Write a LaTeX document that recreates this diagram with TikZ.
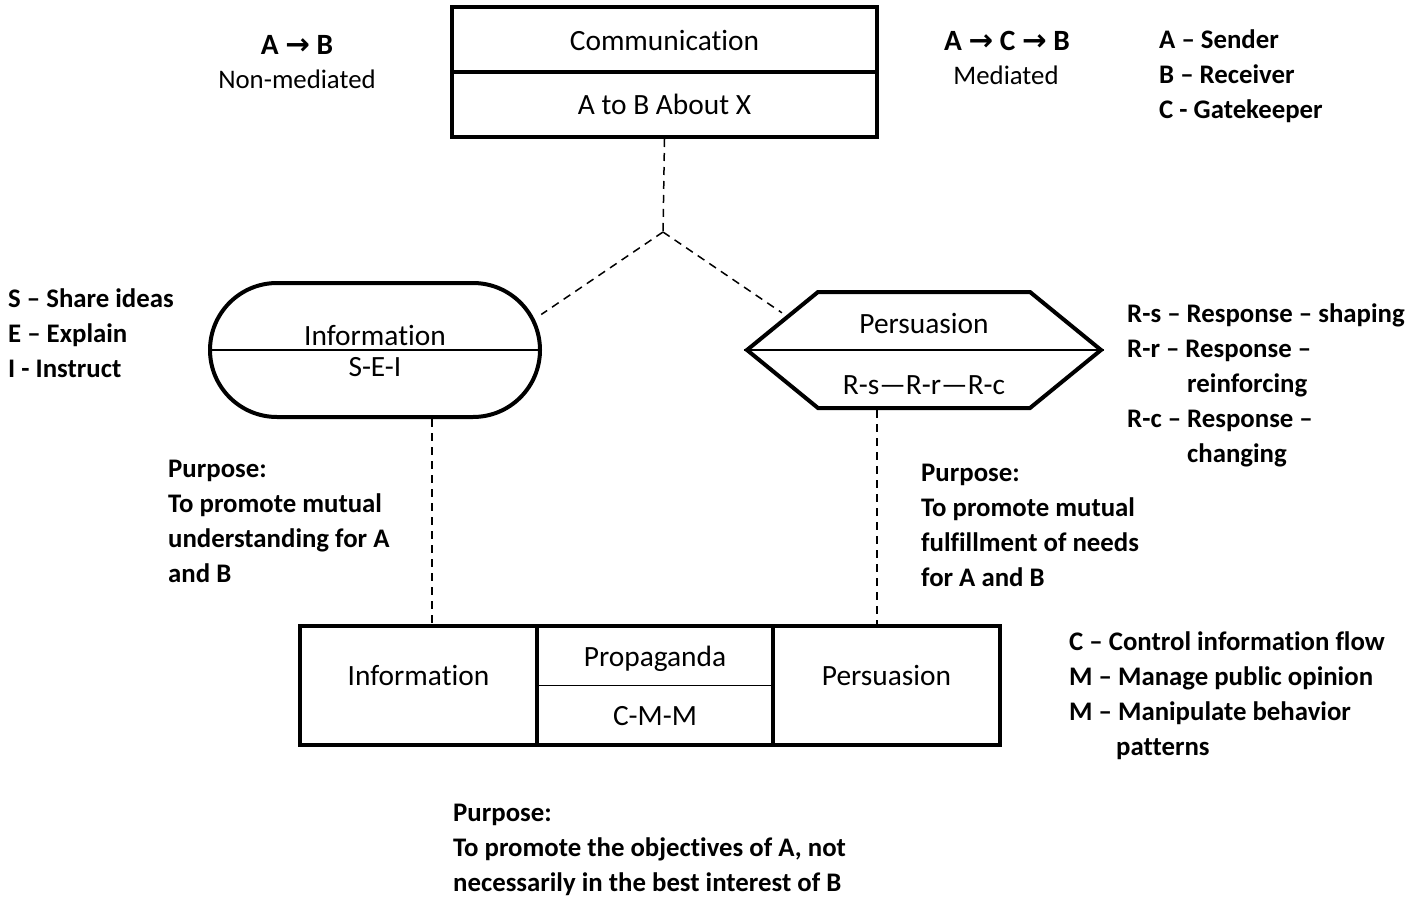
\documentclass[tikz,border=0pt]{standalone}
\usepackage{fontspec}
\setmainfont{Carlito}[Ligatures=NoCommon]
\newfontfamily\arrowfont{DejaVu Sans}
\usetikzlibrary{shapes.misc,shapes.symbols,calc}

\newcommand{\rarr}{{\arrowfont\bfseries →}}

\begin{document}
\begin{tikzpicture}[x=1pt,y=-1pt,
	every node/.style={font=\fontsize{29.4}{35}\selectfont},
	box/.style={draw,line width=4pt,inner sep=0pt},
	divider/.style={line width=1.5pt},
	link/.style={line width=1.5pt,dash pattern=on 8pt off 6pt},
	plain/.style={inner sep=0pt},
	side/.style={inner sep=0pt,font=\fontsize{26.8}{35}\selectfont},
	bold/.style={inner sep=0pt,font=\fontsize{29.4}{35}\selectfont\bfseries},
	note/.style={anchor=west,align=left,inner sep=0pt,font=\fontsize{26.8}{35}\selectfont\bfseries}]

	\useasboundingbox (0,0) rectangle (1419,899);

	% top box
	\node[box,minimum width=425pt,minimum height=130pt] (comm) at (664.5,72) {};
	\draw[line width=4pt] (comm.west) -- (comm.east);
	\node[plain] (commtop) at ($(comm.center)+(0,-32)$) {Communication};
	\node[plain] (commsub) at ($(comm.center)+(0,32)$) {A to B About X};

	% the two kinds
	\node[box,rounded rectangle,minimum width=330pt,minimum height=134pt] (info) at (375,350) {};
	\draw[divider] (info.west) -- (info.east);
	\node[plain] (infotop) at ($(info.center)+(0,-15)$) {Information};
	\node[plain] (infosub) at ($(info.center)+(0,17)$) {S-E-I};

	\node[box,signal,signal to=west and east,signal pointer angle=78.5,
		minimum width=354pt,minimum height=116pt] (pers) at (924,350) {};
	\draw[divider] (pers.west) -- (pers.east);
	\node[plain] (perstop) at ($(pers.center)+(0,-27)$) {Persuasion};
	\node[plain] (perssub) at ($(pers.center)+(0,35)$) {R-s—R-r—R-c};

	% bottom row
	\node[box,minimum width=237pt,minimum height=119pt] (infobox) at (418.5,685.5) {};
	\node[box,minimum width=236pt,minimum height=119pt] (propbox) at (655,685.5) {};
	\node[box,minimum width=227pt,minimum height=119pt] (persbox) at (886.5,685.5) {};
	\draw[divider] (propbox.west) -- (propbox.east);
	\node[plain] (infoname) at ($(infobox.center)+(0,-10)$) {Information};
	\node[plain] (proptop) at ($(propbox.center)+(0,-27)$) {Propaganda};
	\node[plain] (propsub) at ($(propbox.center)+(0,31)$) {C-M-M};
	\node[plain] (persname) at ($(persbox.center)+(0,-10)$) {Persuasion};

	% dashed links
	\coordinate (junc) at (663,232);
	\draw[link] (comm.south) -- (junc);
	\draw[link,shorten >=8pt] (junc) -- (info.11.5);
	\draw[link,shorten >=5pt] (junc) -- (pers.166.3);
	\draw[link] ([xshift=57pt]info.south) -- ([xshift=13.5pt]infobox.north);
	\draw[link] ([xshift=-47pt]pers.south) -- ([xshift=-9.5pt]persbox.north);

	% side notes
	\node[bold] (ab) at (297,45) {A \rarr{} B};
	\node[side] (nonmed) at (297,79) {Non-mediated};
	\node[bold] (acb) at (1007,41) {A \rarr{} C \rarr{} B};
	\node[side] (med) at (1006,75) {Mediated};
	\node[note] (roles) at (1159,76) {A – Sender\\B – Receiver\\C - Gatekeeper};
	\node[note] (sei) at (8,333) {S – Share ideas\\E – Explain\\I - Instruct};
	\node[note] (resp) at (1127,385) {R-s – Response – shaping\\R-r – Response –\\\hspace*{60pt}reinforcing\\R-c – Response –\\\hspace*{60pt}changing};
	\node[note] (purpinfo) at (168,521.5) {Purpose:\\To promote mutual\\understanding for A\\and B};
	\node[note] (purppers) at (921,525.5) {Purpose:\\To promote mutual\\fulfillment of needs\\for A and B};
	\node[note] (cmm) at (1069,695.5) {C – Control information flow\\M – Manage public opinion\\M – Manipulate behavior\\\hspace*{47pt}patterns};
	\node[note] (purpprop) at (453,850) {Purpose:\\To promote the objectives of A, not\\necessarily in the best interest of B};
\end{tikzpicture}
\end{document}
